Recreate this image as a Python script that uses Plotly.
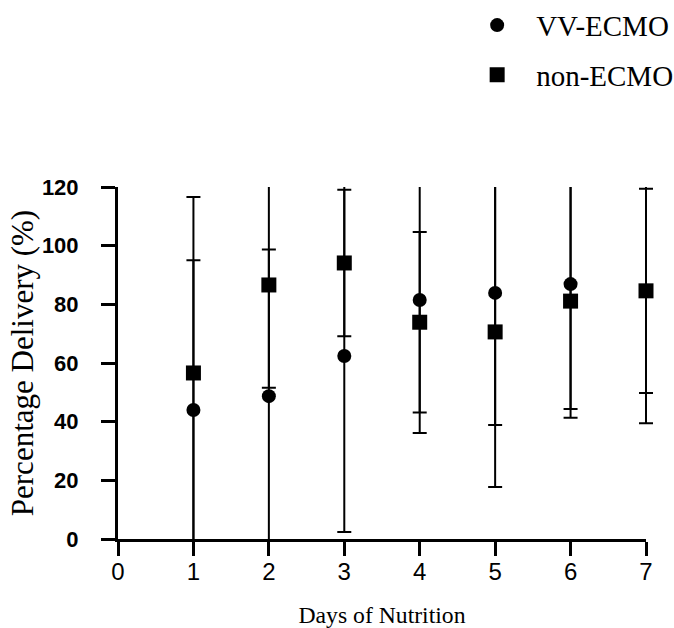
import plotly.graph_objects as go

days = [1, 2, 3, 4, 5, 6, 7]
vv_mean = [44.0, 48.7, 62.4, 81.5, 83.9, 86.9, 84.5]
vv_sd = [51.0, 50.0, 60.0, 45.4, 45.0, 42.6, 45.0]
non_mean = [56.6, 86.6, 94.1, 73.9, 70.6, 81.1, 84.6]
non_sd = [60.0, 35.0, 25.0, 30.8, 52.9, 39.8, 34.8]
x_ticks = [0, 1, 2, 3, 4, 5, 6, 7]
y_ticks = [0, 20, 40, 60, 80, 100, 120]

SERIF = "Liberation Serif, Times New Roman, serif"
SANS = "Liberation Sans, Arial, sans-serif"

ML, MR = 110, 20
PW = 674 - ML - MR
PAD = 8
x_lo, x_hi = 0, 7
span = (x_hi - x_lo) * PAD / (PW - 2 * PAD)

fig = go.Figure()

# error bars (clipped vertically to the plot area)
for mean, sd in [(vv_mean, vv_sd), (non_mean, non_sd)]:
    fig.add_trace(go.Scatter(
        x=days, y=mean, mode="markers", xaxis="x2", yaxis="y",
        marker=dict(size=1, color="rgba(0,0,0,0)"),
        error_y=dict(type="data", array=sd, visible=True, color="black",
                     thickness=2, width=7),
        cliponaxis=True, showlegend=False, hoverinfo="skip"))

fig.add_trace(go.Scatter(
    x=days, y=vv_mean, mode="markers", name="VV-ECMO",
    marker=dict(symbol="circle", size=14, color="black"),
    cliponaxis=False, legendgroup="a"))
fig.add_trace(go.Scatter(
    x=days, y=non_mean, mode="markers", name="non-ECMO",
    marker=dict(symbol="square", size=15, color="black"),
    cliponaxis=False, legendgroup="b"))

fig.update_layout(
    width=674, height=628,
    margin=dict(l=ML, r=MR, t=187, b=89, autoexpand=False),
    paper_bgcolor="white", plot_bgcolor="rgba(0,0,0,0)",
    legend=dict(x=0.64, y=1.532, xanchor="left", yanchor="top",
                font=dict(family=SERIF, size=29, color="black"),
                itemwidth=68, tracegroupgap=9, bgcolor="rgba(0,0,0,0)"),
    xaxis=dict(domain=[PAD / PW, 1 - PAD / PW], range=[x_lo, x_hi],
               tickvals=x_ticks, ticks="outside", ticklen=14,
               tickwidth=3, tickcolor="black", showline=True, linewidth=3,
               linecolor="black", showgrid=False, zeroline=False,
               tickfont=dict(family=SANS, size=24, color="black"),
               ticklabelstandoff=-5,
               title=dict(text="Days of Nutrition",
                          font=dict(family=SERIF, size=23.7, color="black"),
                          standoff=23)),
    xaxis2=dict(domain=[0, 1], range=[x_lo - span, x_hi + span], anchor="y",
                visible=False, showgrid=False, zeroline=False),
    yaxis=dict(range=[0, 120], tickvals=y_ticks, ticks="outside", ticklen=14,
               tickwidth=3, tickcolor="black", showline=True, linewidth=3,
               linecolor="black", showgrid=False, zeroline=False, anchor="x",
               tickfont=dict(family=SANS, size=22, color="black", weight="bold"),
               ticklabelstandoff=18,
               title=dict(text="Percentage Delivery (%)",
                          font=dict(family=SERIF, size=31, color="black"),
                          standoff=0)),
)

fig.write_html("out.html", config={"displayModeBar": False},
               post_script="document.body.style.margin='0';")
